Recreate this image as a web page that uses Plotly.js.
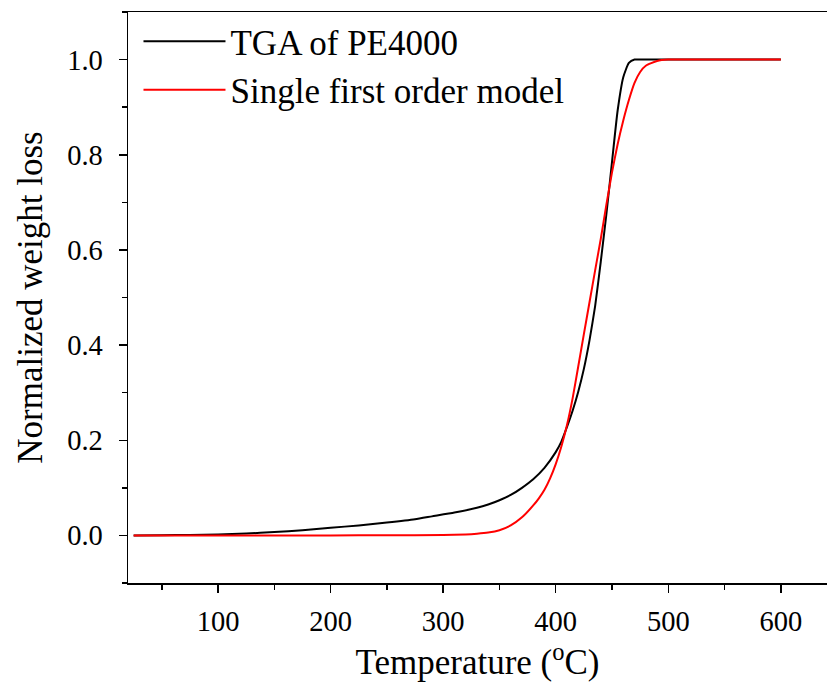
<!DOCTYPE html>
<html>
<head>
<meta charset="utf-8">
<script src="https://cdn.plot.ly/plotly-3.0.1.min.js"></script>
<style>html,body{margin:0;padding:0;background:#fff;}</style>
</head>
<body>
<div id="chart" style="width:827px;height:685px;"></div>
<script>
// Temperature (°C) and normalized weight loss
const tgaT = [25, 50, 75, 100, 125, 150, 175, 200, 225, 250, 275, 290, 310, 330, 340, 350, 360, 370, 380, 390, 400, 405, 410, 415, 420, 425, 430, 435, 440, 445, 450, 455, 460, 465, 470, 480, 500, 550, 600];
const tgaV = [0, 0.0005, 0.001, 0.002, 0.004, 0.007, 0.011, 0.016, 0.021, 0.027, 0.034, 0.04, 0.048, 0.058, 0.065, 0.074, 0.085, 0.1, 0.118, 0.142, 0.175, 0.197, 0.228, 0.262, 0.302, 0.35, 0.41, 0.482, 0.575, 0.675, 0.785, 0.893, 0.963, 0.993, 1.0, 1.0, 1.0, 1.0, 1.0];

const modelT = [25, 100, 200, 250, 300, 320, 330, 340, 350, 360, 370, 380, 385, 390, 395, 400, 405, 410, 415, 420, 425, 430, 435, 440, 445, 450, 455, 460, 465, 470, 475, 480, 490, 500, 550, 600];
const modelV = [0, 0, 0, 0.0003, 0.001, 0.002, 0.0035, 0.006, 0.011, 0.021, 0.038, 0.063, 0.078, 0.096, 0.12, 0.15, 0.187, 0.232, 0.288, 0.355, 0.423, 0.49, 0.557, 0.623, 0.695, 0.763, 0.822, 0.872, 0.915, 0.951, 0.974, 0.987, 0.997, 1.0, 1.0, 1.0];

const seriesNames = ["TGA of PE4000", "Single first order model"];
const xTitle = "Temperature (<sup>o</sup>C)";
const yTitle = "Normalized weight loss";

const FONT = "Liberation Serif, Times New Roman, serif";

const traces = [
  {x: tgaT, y: tgaV, name: seriesNames[0], mode: "lines", type: "scatter",
   line: {color: "#000000", width: 2, shape: "spline", smoothing: 0.5}},
  {x: modelT, y: modelV, name: seriesNames[1], mode: "lines", type: "scatter",
   line: {color: "#ff0000", width: 2, shape: "spline", smoothing: 0.5}}
];

const layout = {
  width: 827, height: 685,
  margin: {l: 128, r: 0, t: 12, b: 102},
  paper_bgcolor: "#ffffff", plot_bgcolor: "#ffffff",
  font: {family: FONT, color: "#000000", size: 28},
  showlegend: true,
  legend: {x: 0.015, y: 1.0, xanchor: "left", yanchor: "top",
           bgcolor: "rgba(0,0,0,0)", borderwidth: 0,
           font: {family: FONT, size: 35, color: "#000"},
           itemwidth: 82, tracegroupgap: 0},
  xaxis: {
    range: [20, 641], showgrid: false, zeroline: false,
    showline: true, linecolor: "#000", linewidth: 1.5, mirror: true,
    ticks: "outside", ticklen: 8, tickwidth: 1.5, tickcolor: "#000",
    tick0: 0, dtick: 100, ticklabelstandoff: 4,
    minor: {dtick: 50, ticks: "outside", ticklen: 5, tickwidth: 1.5, tickcolor: "#000"},
    tickfont: {family: FONT, size: 28.5},
    title: {text: xTitle, font: {family: FONT, size: 35}, standoff: 14}
  },
  yaxis: {
    range: [-0.1, 1.1], showgrid: false, zeroline: false,
    showline: true, linecolor: "#000", linewidth: 1.5, mirror: false,
    ticks: "outside", ticklen: 8, tickwidth: 1.5, tickcolor: "#000",
    tick0: 0, dtick: 0.2, tickformat: ".1f", ticklabelstandoff: 10,
    minor: {dtick: 0.1, ticks: "outside", ticklen: 5, tickwidth: 1.5, tickcolor: "#000"},
    tickfont: {family: FONT, size: 28.5},
    title: {text: yTitle, font: {family: FONT, size: 35}, standoff: 14}
  }
};

Plotly.newPlot("chart", traces, layout, {displayModeBar: false, staticPlot: true});
</script>
</body>
</html>
